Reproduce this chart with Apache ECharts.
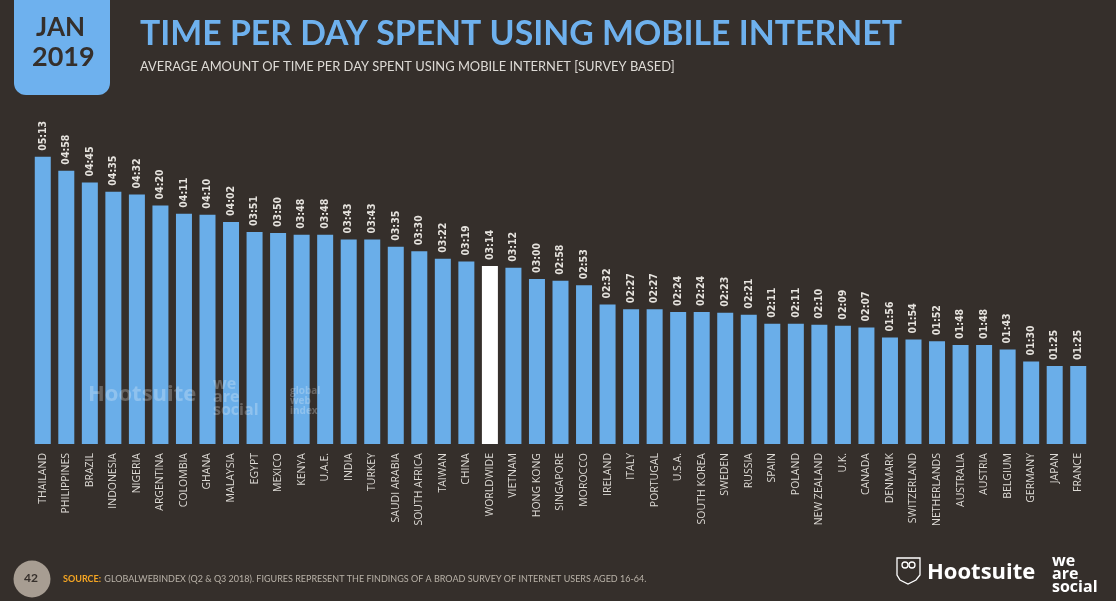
<!DOCTYPE html>
<html lang="en">
<head>
    <meta charset="UTF-8">
    <title>Time per day spent using mobile internet</title>
    <script src="https://cdn.jsdelivr.net/npm/echarts@6/dist/echarts.min.js"></script>
    <style>
        html, body { margin: 0; padding: 0; background: #352f2b; }
        #chart { width: 1116px; height: 601px; }
    </style>
</head>
<body>
<div id="chart"></div>
<script>
    // countries, left to right
    var countries = ['THAILAND', 'PHILIPPINES', 'BRAZIL', 'INDONESIA', 'NIGERIA', 'ARGENTINA', 'COLOMBIA', 'GHANA',
        'MALAYSIA', 'EGYPT', 'MEXICO', 'KENYA', 'U.A.E.', 'INDIA', 'TURKEY', 'SAUDI ARABIA', 'SOUTH AFRICA',
        'TAIWAN', 'CHINA', 'WORLDWIDE', 'VIETNAM', 'HONG KONG', 'SINGAPORE', 'MOROCCO', 'IRELAND', 'ITALY',
        'PORTUGAL', 'U.S.A.', 'SOUTH KOREA', 'SWEDEN', 'RUSSIA', 'SPAIN', 'POLAND', 'NEW ZEALAND', 'U.K.',
        'CANADA', 'DENMARK', 'SWITZERLAND', 'NETHERLANDS', 'AUSTRALIA', 'AUSTRIA', 'BELGIUM', 'GERMANY',
        'JAPAN', 'FRANCE'];
    // hours and minutes per day
    var hours = [5, 4, 4, 4, 4, 4, 4, 4, 4, 3, 3, 3, 3, 3, 3, 3, 3, 3, 3, 3, 3, 3, 2, 2, 2, 2, 2, 2, 2, 2, 2,
        2, 2, 2, 2, 2, 1, 1, 1, 1, 1, 1, 1, 1, 1];
    var minutes = [13, 58, 45, 35, 32, 20, 11, 10, 2, 51, 50, 48, 48, 43, 43, 35, 30, 22, 19, 14, 12, 0, 58, 53,
        32, 27, 27, 24, 24, 23, 21, 11, 11, 10, 9, 7, 56, 54, 52, 48, 48, 43, 30, 25, 25];
    var highlight = 'WORLDWIDE';

    function pad(n) { return (n < 10 ? '0' : '') + n; }

    var barData = [];
    for (var i = 0; i < countries.length; i++) {
        var item = { value: hours[i] * 60 + minutes[i], label: pad(hours[i]) + ':' + pad(minutes[i]) };
        if (countries[i] === highlight) {
            item.itemStyle = { color: '#ffffff' };
        }
        barData.push(item);
    }

    var myChart = echarts.init(document.getElementById('chart'));
    var option = {
        backgroundColor: '#352f2b',
        animation: false,
        grid: { left: 31, right: 26, top: 100, bottom: 157 },
        xAxis: {
            type: 'category',
            data: countries,
            axisLine: { show: false },
            axisTick: { show: false },
            axisLabel: {
                interval: 0,
                rotate: 90,
                margin: 9,
                color: '#dedbd6',
                fontSize: 10.5,
                fontFamily: 'Open Sans'
            }
        },
        yAxis: {
            type: 'value',
            min: 0,
            max: 375,
            show: false,
            splitLine: { show: false }
        },
        series: [{
            type: 'bar',
            data: barData,
            barWidth: 16,
            itemStyle: { color: '#6aaee9' },
            label: {
                show: true,
                position: 'top',
                rotate: 90,
                align: 'left',
                verticalAlign: 'middle',
                distance: 6,
                color: '#e6e3de',
                fontSize: 10.5,
                fontWeight: 'bold',
                fontFamily: 'DejaVu Sans Condensed',
                formatter: function (p) { return p.data.label; }
            }
        }],
        graphic: [
            // date tab
            { type: 'rect', shape: { x: 14, y: -12, width: 96, height: 107, r: 12 },
              style: { fill: '#6eb1ee' } },
            { type: 'text', left: 36, top: 15,
              style: { text: 'JAN', fill: '#352f2b', font: 'bold 26px Lato' } },
            { type: 'text', left: 32, top: 44,
              style: { text: '2019', fill: '#352f2b', font: 'bold 27px Lato' } },
            // titles
            { type: 'text', left: 140, top: 17,
              style: { text: 'TIME PER DAY SPENT USING MOBILE INTERNET', fill: '#6eb1ee', font: 'bold 33.8px Lato' } },
            { type: 'text', left: 140, top: 60,
              style: { text: 'AVERAGE AMOUNT OF TIME PER DAY SPENT USING MOBILE INTERNET [SURVEY BASED]',
                       fill: '#dedbd6', font: '12.9px Lato' } },
            // faint watermarks
            { type: 'text', left: 88, top: 384, z: 10,
              style: { text: 'Hootsuite', fill: 'rgba(255,255,255,0.25)', font: 'bold 22px "Open Sans"' } },
            { type: 'text', left: 213, top: 376, z: 10,
              style: { text: 'we\nare\nsocial', fill: 'rgba(255,255,255,0.25)', font: 'bold 16px "Open Sans"', lineHeight: 13 } },
            { type: 'text', left: 290, top: 386, z: 10,
              style: { text: 'global\nweb\nindex', fill: 'rgba(255,255,255,0.25)', font: 'bold 10px "Open Sans"', lineHeight: 10 } },
            // footer
            { type: 'circle', shape: { cx: 32, cy: 579, r: 18.5 }, style: { fill: '#a79d92' } },
            { type: 'text', left: 24, top: 572,
              style: { text: '42', fill: '#352f2b', font: 'bold 12px Lato' } },
            { type: 'text', left: 63, top: 573,
              style: {
                  text: '{s|SOURCE:} {t|GLOBALWEBINDEX (Q2 & Q3 2018). FIGURES REPRESENT THE FINDINGS OF A BROAD SURVEY OF INTERNET USERS AGED 16-64.}',
                  rich: {
                      s: { fill: '#f5a623', font: 'bold 9px Lato' },
                      t: { fill: '#b9b2a8', font: '9px Lato' }
                  }
              } },
            { type: 'polygon',
              shape: { points: [[897, 558], [920, 558], [920, 575], [916, 580], [908, 584], [900, 580], [897, 575]] },
              style: { fill: 'none', stroke: '#ffffff', lineWidth: 1.3 } },
            { type: 'circle', shape: { cx: 905, cy: 565, r: 3 }, style: { fill: 'none', stroke: '#ffffff', lineWidth: 1.3 } },
            { type: 'circle', shape: { cx: 912, cy: 565, r: 3 }, style: { fill: 'none', stroke: '#ffffff', lineWidth: 1.3 } },
            { type: 'text', left: 927, top: 562,
              style: { text: 'Hootsuite', fill: '#ffffff', font: 'bold 22px "Open Sans"' } },
            { type: 'text', left: 1052, top: 553,
              style: { text: 'we\nare\nsocial', fill: '#ffffff', font: 'bold 16px "Open Sans"', lineHeight: 13 } }
        ]
    };
    myChart.setOption(option);
</script>
</body>
</html>
